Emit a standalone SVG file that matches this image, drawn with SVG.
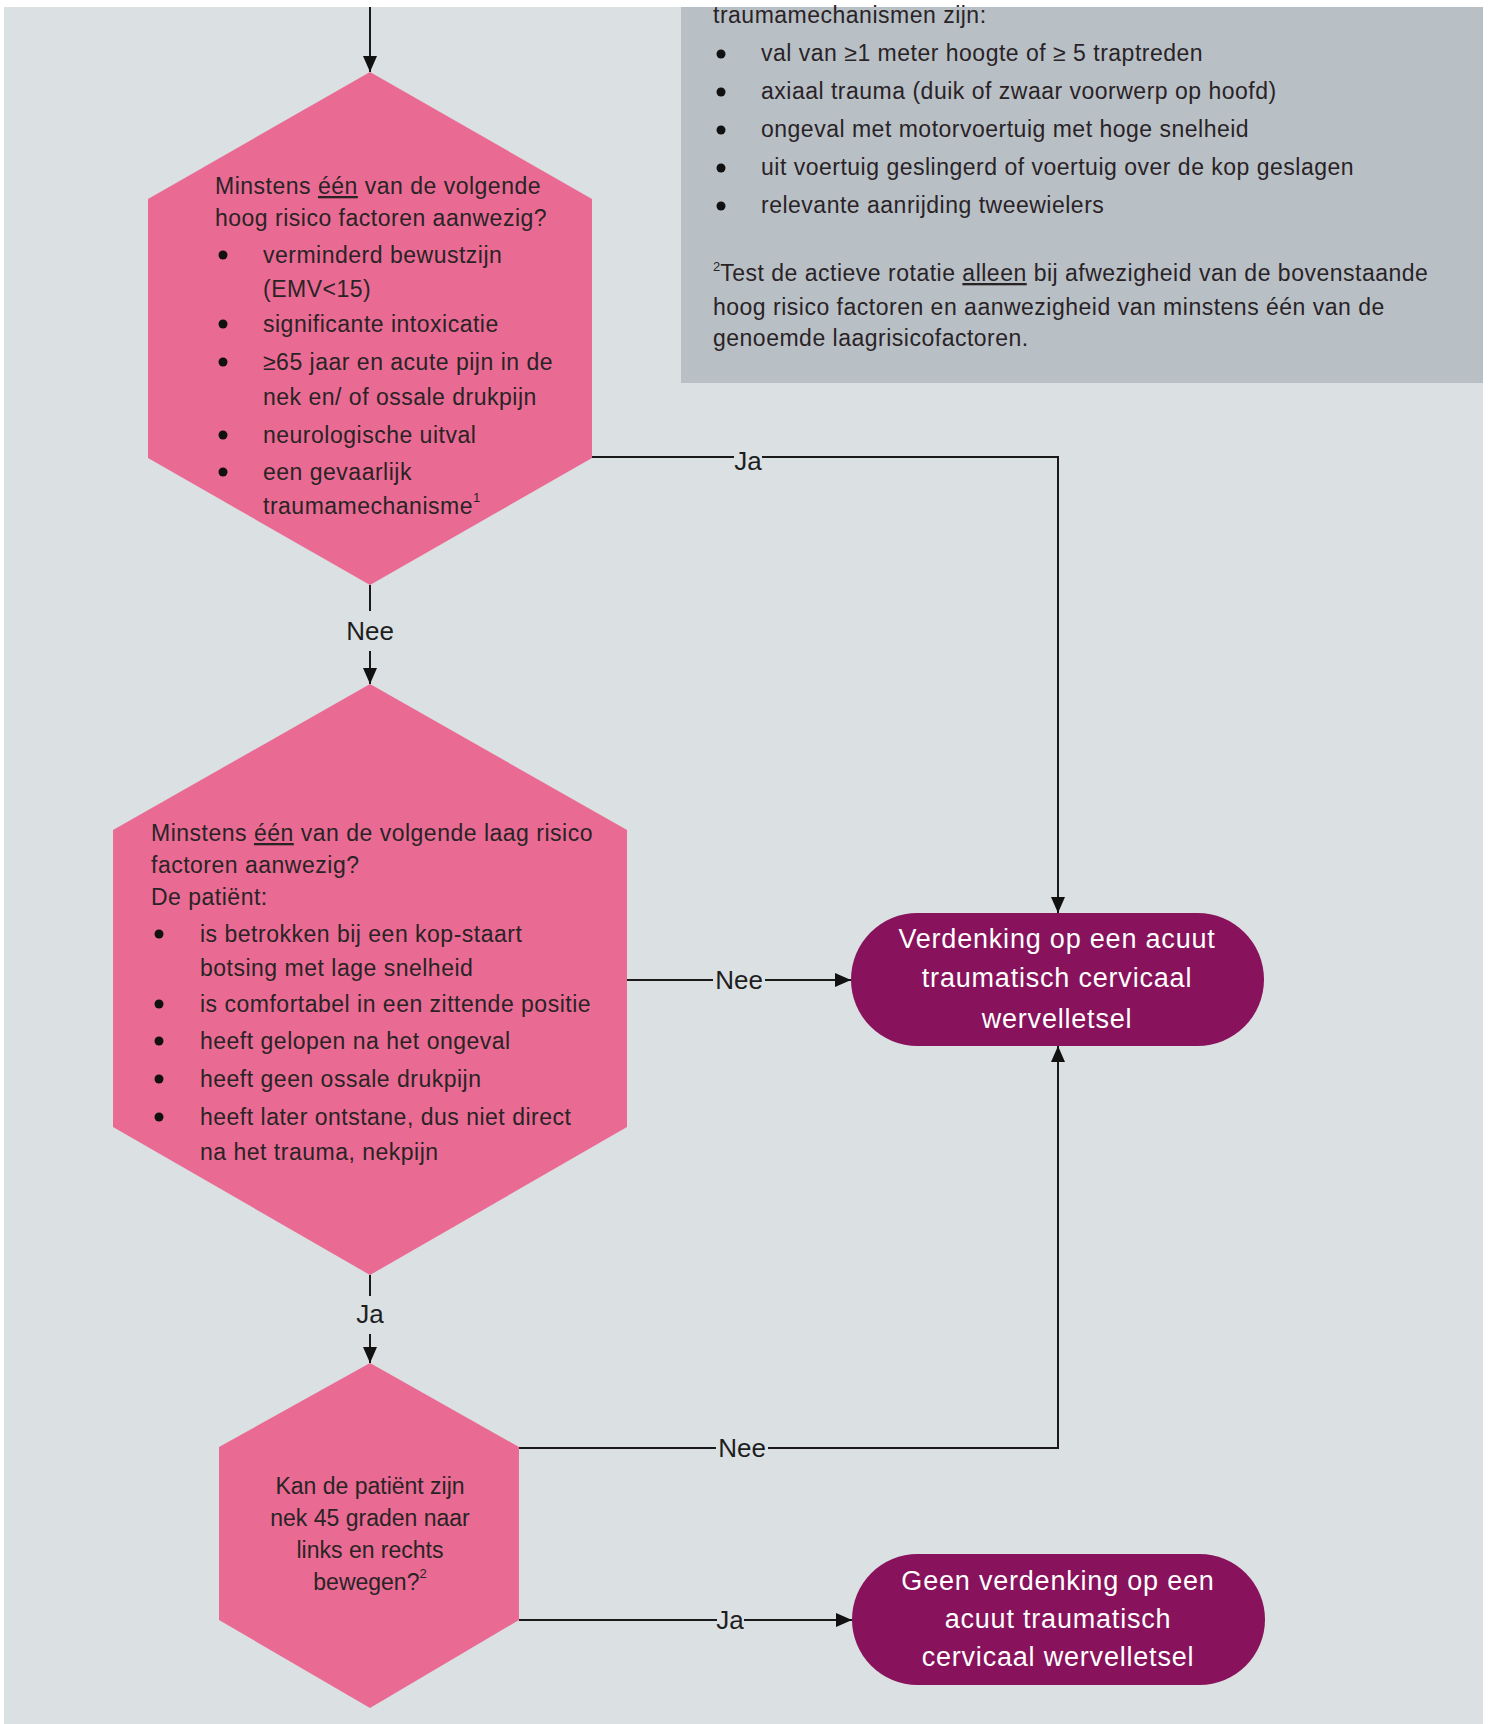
<svg xmlns="http://www.w3.org/2000/svg" width="1489" height="1724" viewBox="0 0 1489 1724">
<style>
  .bg { fill: #dbe0e3; }
  .note { fill: #b8c0c6; }
  .hex { fill: #e96b93; }
  .term { fill: #88135c; }
  .t { font-family: "Liberation Sans", Arial, sans-serif; font-size: 23px; letter-spacing: 0.5px; fill: #2a2326; }
  .t3 { font-family: "Liberation Sans", Arial, sans-serif; font-size: 23px; fill: #2a2326; text-anchor: middle; }
  .tt { font-family: "Liberation Sans", Arial, sans-serif; font-size: 27px; letter-spacing: 0.8px; fill: #ffffff; text-anchor: middle; }
  .lbl { font-family: "Liberation Sans", Arial, sans-serif; font-size: 26px; fill: #1e1e1e; text-anchor: middle; }
  .sup { font-size: 13px; letter-spacing: 0; }
  .u { text-decoration: underline; }
  .bul { fill: #111111; }
  .conn { fill: none; stroke: #1a1a1a; stroke-width: 2; }
</style>
<defs>
  <marker id="arr" markerWidth="16" markerHeight="14" refX="16" refY="7" orient="auto" markerUnits="userSpaceOnUse">
    <path d="M0,0 L16,7 L0,14 z" fill="#111111"/>
  </marker>
</defs>
<rect x="0" y="0" width="1489" height="1724" fill="#ffffff"/>
<rect class="bg" x="4" y="7" width="1479" height="1717"/>

<g id="note">
  <rect class="note" x="681" y="7" width="802" height="376"/>
  <text class="t" x="713" y="23">traumamechanismen zijn:</text>
  <circle class="bul" cx="721" cy="54" r="4.5"/>
  <text class="t" x="761" y="61">val van ≥1 meter hoogte of ≥ 5 traptreden</text>
  <circle class="bul" cx="721" cy="92" r="4.5"/>
  <text class="t" x="761" y="99">axiaal trauma (duik of zwaar voorwerp op hoofd)</text>
  <circle class="bul" cx="721" cy="130" r="4.5"/>
  <text class="t" x="761" y="137">ongeval met motorvoertuig met hoge snelheid</text>
  <circle class="bul" cx="721" cy="168" r="4.5"/>
  <text class="t" x="761" y="175">uit voertuig geslingerd of voertuig over de kop geslagen</text>
  <circle class="bul" cx="721" cy="206" r="4.5"/>
  <text class="t" x="761" y="213">relevante aanrijding tweewielers</text>
  <text class="t" x="713" y="281"><tspan class="sup" dy="-10">2</tspan><tspan dy="10">Test de actieve rotatie </tspan><tspan class="u">alleen</tspan> bij afwezigheid van de bovenstaande</text>
  <text class="t" x="713" y="315">hoog risico factoren en aanwezigheid van minstens één van de</text>
  <text class="t" x="713" y="346">genoemde laagrisicofactoren.</text>
</g>

<g id="hex1">
  <polygon class="hex" points="370,72 592,199 592,458 370,585 148,458 148,199"/>
  <text class="t" x="215" y="194">Minstens <tspan class="u">één</tspan> van de volgende</text>
  <text class="t" x="215" y="226">hoog risico factoren aanwezig?</text>
  <circle class="bul" cx="223" cy="255" r="4.5"/>
  <text class="t" x="263" y="263">verminderd bewustzijn</text>
  <text class="t" x="263" y="297">(EMV&lt;15)</text>
  <circle class="bul" cx="223" cy="324" r="4.5"/>
  <text class="t" x="263" y="332">significante intoxicatie</text>
  <circle class="bul" cx="223" cy="362" r="4.5"/>
  <text class="t" x="263" y="370">≥65 jaar en acute pijn in de</text>
  <text class="t" x="263" y="405">nek en/ of ossale drukpijn</text>
  <circle class="bul" cx="223" cy="435" r="4.5"/>
  <text class="t" x="263" y="443">neurologische uitval</text>
  <circle class="bul" cx="223" cy="472" r="4.5"/>
  <text class="t" x="263" y="480">een gevaarlijk</text>
  <text class="t" x="263" y="514">traumamechanisme<tspan class="sup" dy="-12">1</tspan></text>
</g>

<g id="hex2">
  <polygon class="hex" points="370,684 627,830 627,1127 370,1275 113,1127 113,830"/>
  <text class="t" x="151" y="841">Minstens <tspan class="u">één</tspan> van de volgende laag risico</text>
  <text class="t" x="151" y="873">factoren aanwezig?</text>
  <text class="t" x="151" y="905">De patiënt:</text>
  <circle class="bul" cx="159" cy="934" r="4.5"/>
  <text class="t" x="200" y="942">is betrokken bij een kop-staart</text>
  <text class="t" x="200" y="976">botsing met lage snelheid</text>
  <circle class="bul" cx="159" cy="1004" r="4.5"/>
  <text class="t" x="200" y="1012">is comfortabel in een zittende positie</text>
  <circle class="bul" cx="159" cy="1041" r="4.5"/>
  <text class="t" x="200" y="1049">heeft gelopen na het ongeval</text>
  <circle class="bul" cx="159" cy="1079" r="4.5"/>
  <text class="t" x="200" y="1087">heeft geen ossale drukpijn</text>
  <circle class="bul" cx="159" cy="1117" r="4.5"/>
  <text class="t" x="200" y="1125">heeft later ontstane, dus niet direct</text>
  <text class="t" x="200" y="1160">na het trauma, nekpijn</text>
</g>

<g id="hex3">
  <polygon class="hex" points="370,1363 519,1447 519,1620 370,1708 219,1620 219,1447"/>
  <text class="t3" x="370" y="1494">Kan de patiënt zijn</text>
  <text class="t3" x="370" y="1526">nek 45 graden naar</text>
  <text class="t3" x="370" y="1558">links en rechts</text>
  <text class="t3" x="370" y="1590">bewegen?<tspan class="sup" dy="-12">2</tspan></text>
</g>

<g id="term1">
  <rect class="term" x="851" y="913" width="413" height="133" rx="66.5" ry="66.5"/>
  <text class="tt" x="1057" y="948">Verdenking op een acuut</text>
  <text class="tt" x="1057" y="987">traumatisch cervicaal</text>
  <text class="tt" x="1057" y="1028">wervelletsel</text>
</g>

<g id="term2">
  <rect class="term" x="852" y="1554" width="413" height="131" rx="65.5" ry="65.5"/>
  <text class="tt" x="1058" y="1590">Geen verdenking op een</text>
  <text class="tt" x="1058" y="1628">acuut traumatisch</text>
  <text class="tt" x="1058" y="1666">cervicaal wervelletsel</text>
</g>

<g id="connectors">
  <path class="conn" d="M370,7 V72" marker-end="url(#arr)"/>
  <path class="conn" d="M370,585 V611 M370,651 V684" marker-end="url(#arr)"/>
  <text class="lbl" x="370" y="640">Nee</text>
  <path class="conn" d="M370,1275 V1296 M370,1334 V1363" marker-end="url(#arr)"/>
  <text class="lbl" x="370" y="1323">Ja</text>
  <path class="conn" d="M592,457 H1058 V913" marker-end="url(#arr)"/>
  <rect class="bg" x="734" y="447" width="28" height="26"/>
  <text class="lbl" x="748" y="470">Ja</text>
  <path class="conn" d="M627,980 H851" marker-end="url(#arr)"/>
  <rect class="bg" x="713" y="968" width="52" height="24"/>
  <text class="lbl" x="739" y="989">Nee</text>
  <path class="conn" d="M519,1448 H1058 V1046" marker-end="url(#arr)"/>
  <rect class="bg" x="716" y="1436" width="52" height="24"/>
  <text class="lbl" x="742" y="1457">Nee</text>
  <path class="conn" d="M519,1620 H852" marker-end="url(#arr)"/>
  <rect class="bg" x="717" y="1608" width="27" height="24"/>
  <text class="lbl" x="730" y="1629">Ja</text>
</g>
</svg>
